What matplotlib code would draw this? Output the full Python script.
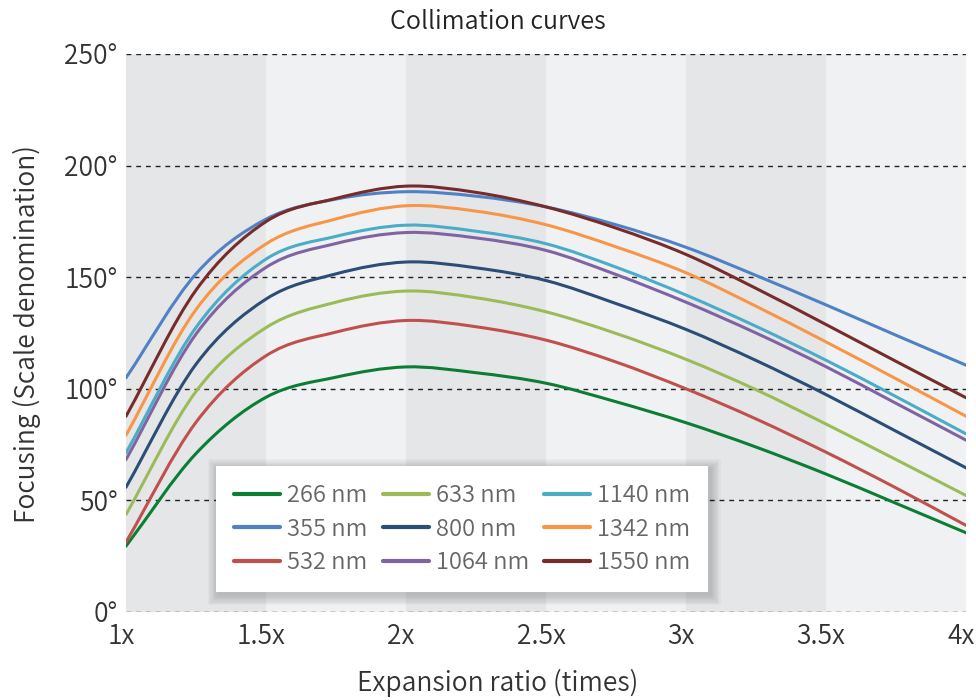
import numpy as np
import matplotlib
matplotlib.use("Agg")
import matplotlib.pyplot as plt
import matplotlib.transforms as mtransforms
from matplotlib import font_manager
from matplotlib.lines import Line2D
from matplotlib.patches import FancyBboxPatch, PathPatch
from matplotlib.path import Path

# expansion ratio sample points
ratio = [1.0, 1.25, 1.5, 1.75, 2.0, 2.25, 2.5, 2.75, 3.0, 3.25, 3.5, 3.75, 4.0]

# focusing (scale denomination) per wavelength
nm_266 = [29.5, 71.0, 96.2, 105.2, 109.8, 107.2, 102.5, 94.2, 84.8, 73.9, 61.8, 48.7, 35.5]
nm_355 = [104.9, 151.5, 176.0, 185.0, 188.3, 186.3, 181.5, 173.5, 163.4, 150.8, 137.6, 124.0, 110.6]
nm_532 = [31.3, 85.0, 114.8, 125.4, 130.6, 127.8, 121.8, 112.0, 100.0, 86.5, 71.6, 55.6, 38.8]
nm_633 = [43.7, 98.8, 127.4, 138.8, 143.8, 140.8, 134.5, 124.8, 113.2, 99.6, 84.2, 68.3, 52.2]
nm_800 = [55.9, 111.0, 140.2, 151.5, 156.8, 154.2, 148.5, 138.2, 126.6, 112.7, 97.4, 81.0, 64.6]
nm_1064 = [68.3, 124.5, 154.4, 165.1, 170.0, 167.6, 162.0, 151.2, 138.8, 125.0, 109.9, 93.5, 77.0]
nm_1140 = [71.3, 127.5, 158.1, 168.3, 173.3, 170.6, 165.0, 154.5, 142.0, 128.0, 112.8, 96.5, 79.8]
nm_1342 = [79.2, 135.5, 164.9, 176.1, 182.0, 179.6, 173.5, 163.6, 152.0, 137.0, 121.0, 104.5, 87.7]
nm_1550 = [87.7, 144.2, 174.9, 185.3, 190.8, 188.0, 181.5, 172.0, 160.2, 145.0, 128.8, 112.3, 96.0]

labels = ["266 nm", "355 nm", "532 nm", "633 nm", "800 nm", "1064 nm",
          "1140 nm", "1342 nm", "1550 nm"]
series = [nm_266, nm_355, nm_532, nm_633, nm_800, nm_1064, nm_1140, nm_1342, nm_1550]
colors = ["#0b7d34", "#4f81c4", "#c0504d", "#9bbb59", "#2c4d75", "#8064a2",
          "#4bacc6", "#f79646", "#772c2a"]

x_ticks = [1, 1.5, 2, 2.5, 3, 3.5, 4]
x_tick_labels = ["1x", "1.5x", "2x", "2.5x", "3x", "3.5x", "4x"]
y_ticks = [0, 50, 100, 150, 200, 250]
y_tick_labels = ["0°", "50°", "100°", "150°", "200°", "250°"]


def pick_font():
    # prefer a light cut of Noto Sans CJK, otherwise the regular one
    fonts = font_manager.fontManager.ttflist
    light = [f for f in fonts if f.name.startswith("Noto Sans CJK") and
             isinstance(f.weight, int) and f.weight < 400]
    if light:
        return light[0].name, light[0].weight
    names = {f.name for f in fonts}
    if "Noto Sans CJK JP" in names:
        return "Noto Sans CJK JP", "normal"
    return "DejaVu Sans", "normal"


fam, wt = pick_font()
plt.rcParams["font.family"] = [fam, "DejaVu Sans"]
plt.rcParams["font.weight"] = wt


def smooth_path(xs, ys):
    # bezier through the points, like a smoothed line chart
    p = np.column_stack([xs, ys]).astype(float)
    ext = np.vstack([2 * p[0] - p[1], p, 2 * p[-1] - p[-2]])
    verts = [p[0]]
    codes = [Path.MOVETO]
    for i in range(len(p) - 1):
        a, b, c, d = ext[i], ext[i + 1], ext[i + 2], ext[i + 3]
        verts += [b + (c - a) / 6, c - (d - b) / 6, c]
        codes += [Path.CURVE4] * 3
    return Path(verts, codes)


fig = plt.figure(figsize=(9.76, 7.0), dpi=100)
ax = fig.add_axes([126 / 976, 1 - 612 / 700, 840 / 976, 558 / 700])

# alternating column bands
for i in range(6):
    left = 1 + 0.5 * i
    ax.axvspan(left, left + 0.5, color="#e5e6e8" if i % 2 == 0 else "#f0f1f3", lw=0, zorder=0)

for y in y_ticks:
    ax.axhline(y, color="#222222", lw=1.0, ls=(0, (3.5, 3.5)), zorder=1)

handles = []
for vals, lab, c in zip(series, labels, colors):
    ax.add_patch(PathPatch(smooth_path(ratio, vals), facecolor="none", edgecolor=c,
                           lw=2.2, zorder=3, capstyle="round", joinstyle="round"))
    handles.append(Line2D([], [], color=c, lw=3.0, solid_capstyle="round", label=lab))

ax.set_xlim(1, 4)
ax.set_ylim(0, 250)
ax.set_xticks(x_ticks)
ax.set_xticklabels(x_tick_labels)
ax.set_yticks(y_ticks)
ax.set_yticklabels(y_tick_labels)
ax.tick_params(length=0, labelsize=19, colors="#333333")
ax.tick_params(axis="y", pad=6)
ax.tick_params(axis="x", pad=8)
shift = mtransforms.ScaledTranslation(-5 / 100, 0, fig.dpi_scale_trans)
for t in ax.get_xticklabels():
    t.set_transform(t.get_transform() + shift)
for s in ax.spines.values():
    s.set_visible(False)

fig.text(498 / 976, 1 - 683 / 700, "Expansion ratio (times)", fontsize=19,
         color="#333333", ha="center", va="center")
fig.text(27 / 976, 1 - 334 / 700, "Focusing (Scale denomination)", fontsize=19,
         color="#333333", ha="center", va="center", rotation=90)
fig.text(498 / 976, 1 - 22 / 700, "Collimation curves", fontsize=18,
         color="#222222", ha="center", va="center")

leg = ax.legend(handles=handles, ncol=3, loc="lower left",
                bbox_to_anchor=(216 / 976, 1 - 592 / 700), bbox_transform=fig.transFigure,
                borderaxespad=0, fontsize=17, frameon=True, fancybox=False, framealpha=1,
                handlelength=1.95, handletextpad=0.3, columnspacing=0.65,
                labelspacing=0.45, borderpad=0.75, labelcolor="#666666")
leg.get_frame().set_facecolor("white")
leg.get_frame().set_edgecolor("none")
leg.set_zorder(10)

# soft drop shadow under the legend box
fig.canvas.draw()
bb = leg.get_window_extent().transformed(fig.transFigure.inverted())
for k in range(8, 0, -1):
    grow = k * 1.3
    ax.add_patch(FancyBboxPatch(
        (bb.x0 + 2 / 976 - grow / 976, bb.y0 - 3 / 700 - grow / 700),
        bb.width + 2 * grow / 976, bb.height + 2 * grow / 700,
        boxstyle="square,pad=0", transform=fig.transFigure, clip_on=False,
        facecolor="black", edgecolor="none", alpha=0.022, zorder=9))

fig.savefig("out.png", dpi=100)
